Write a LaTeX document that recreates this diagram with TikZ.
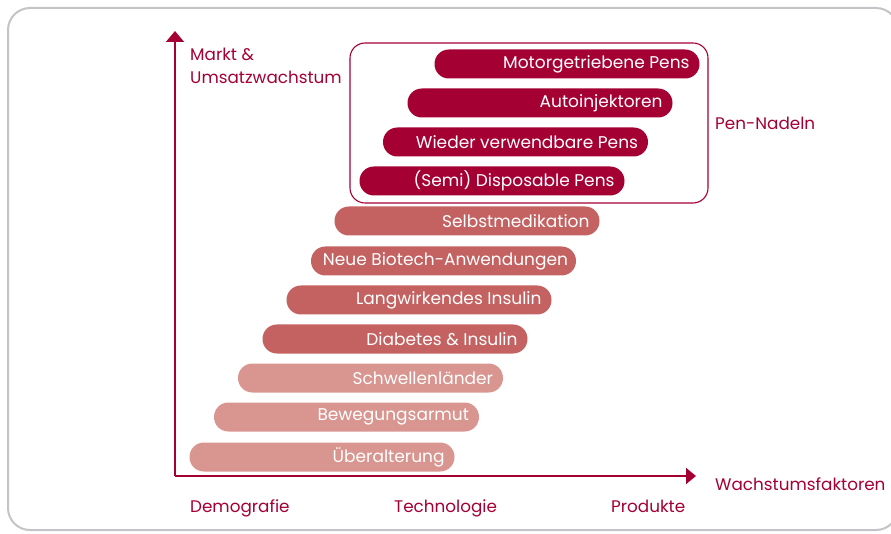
\documentclass[tikz,border=0pt]{standalone}
\usepackage{fontspec}
\setmainfont{Poppins}
\usetikzlibrary{arrows.meta}
\definecolor{crim}{HTML}{A50034}
\definecolor{mid}{HTML}{C46262}
\definecolor{light}{HTML}{D9958F}
\definecolor{frameg}{HTML}{C4C4C8}
\tikzset{
  bar/.style={rectangle, rounded corners=14.4pt, minimum height=29pt, minimum width=265pt,
    inner sep=0pt},
  bartext/.style={anchor=east, xshift=-10pt, inner sep=0pt, text=white, font=\fontsize{17}{17}\selectfont},
  lab/.style={text=crim, font=\fontsize{16.8}{19}\selectfont, inner sep=0pt, anchor=base west},
}
\begin{document}
\begin{tikzpicture}[x=1pt,y=-1pt]
\useasboundingbox (0,0) rectangle (891,534);
\draw[frameg, line width=2pt, rounded corners=22pt] (8,8) rectangle (898,530);
% axes
\coordinate (O) at (175,476);
\coordinate (ytop) at (175,31);
\coordinate (xend) at (696,476);
\draw[crim, line width=1.5pt, -{Triangle[width=18pt,length=11pt]}] (O) -- (ytop);
\draw[crim, line width=1.5pt, -{Triangle[width=16pt,length=10pt]}] (O) -- (xend);
% pen frame
\draw[crim, line width=1.1pt, rounded corners=15pt] (350,43) rectangle (708,203);
% bars
\node[bar, fill=crim] (b1) at (567,64) {};
\node[bar, fill=crim] (b2) at (540,103) {};
\node[bar, fill=crim] (b3) at (515.5,142) {};
\node[bar, fill=crim] (b4) at (492,181) {};
\node[bar, fill=mid] (b5) at (467,221) {};
\node[bar, fill=mid] (b6) at (443.5,261) {};
\node[bar, fill=mid] (b7) at (419,300) {};
\node[bar, fill=mid] (b8) at (395,339) {};
\node[bar, fill=light] (b9) at (370.5,378) {};
\node[bar, fill=light] (b10) at (346.5,417) {};
\node[bar, fill=light] (b11) at (322,457) {};
\node[bartext] (t1) at (b1.east) {Motorgetriebene Pens};
\node[bartext] (t2) at (b2.east) {Autoinjektoren};
\node[bartext] (t3) at (b3.east) {Wieder verwendbare Pens};
\node[bartext] (t4) at (b4.east) {(Semi) Disposable Pens};
\node[bartext] (t5) at (b5.east) {Selbstmedikation};
\node[bartext, xshift=2pt] (t6) at (b6.east) {Neue Biotech-Anwendungen};
\node[bartext] (t7) at (b7.east) {Langwirkendes Insulin};
\node[bartext] (t8) at (b8.east) {Diabetes \& Insulin};
\node[bartext] (t9) at (b9.east) {Schwellenländer};
\node[bartext] (t10) at (b10.east) {Bewegungsarmut};
\node[bartext] (t11) at (b11.east) {Überalterung};
% labels
\node[lab] (ylab1) at (190,61) {Markt \&};
\node[lab] (ylab2) at (190,84) {Umsatzwachstum};
\node[lab] (pen) at (715,130) {Pen-Nadeln};
\node[lab] (xlab) at (715,490) {Wachstumsfaktoren};
\node[lab] (d) at (190,512) {Demografie};
\node[lab] (t) at (394,512) {Technologie};
\node[lab] (p) at (611,512) {Produkte};
\end{tikzpicture}
\end{document}
